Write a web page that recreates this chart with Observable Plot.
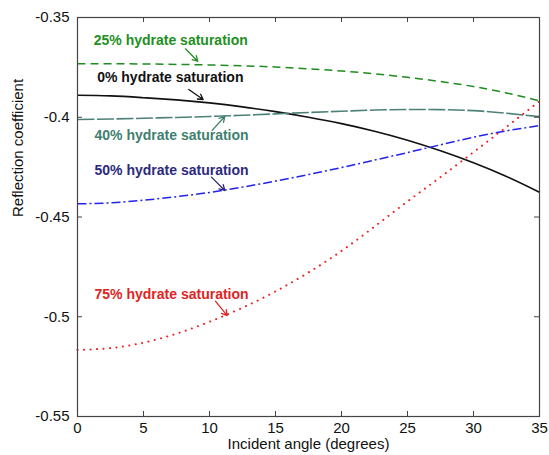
<!DOCTYPE html>
<html>
<head>
<meta charset="utf-8">
<script src="https://cdn.jsdelivr.net/npm/d3@7"></script>
<script src="https://cdn.jsdelivr.net/npm/@observablehq/plot@0.6"></script>
<style>
  html, body { margin: 0; padding: 0; background: #fff; }
</style>
</head>
<body>
<div id="chart"></div>
<script>
// Incident angle (degrees)
const angles = [0, 2.5, 5, 7.5, 10, 12.5, 15, 17.5, 20, 22.5, 25, 27.5, 30, 32.5, 35];

// Reflection coefficient per hydrate saturation
const sat0  = [-0.3890, -0.3893, -0.3902, -0.3913, -0.3928, -0.3948, -0.3972, -0.4000, -0.4032, -0.4070, -0.4115, -0.4168, -0.4228, -0.4297, -0.4376];
const sat25 = [-0.3732, -0.3732, -0.3733, -0.3735, -0.3738, -0.3742, -0.3748, -0.3757, -0.3768, -0.3782, -0.3800, -0.3821, -0.3846, -0.3878, -0.3918];
const sat40 = [-0.4011, -0.4009, -0.4005, -0.4001, -0.3996, -0.3990, -0.3983, -0.3976, -0.3970, -0.3964, -0.3961, -0.3962, -0.3967, -0.3980, -0.3997];
const sat50 = [-0.4434, -0.4429, -0.4416, -0.4398, -0.4377, -0.4350, -0.4320, -0.4287, -0.4252, -0.4215, -0.4177, -0.4138, -0.4100, -0.4068, -0.4042];
const sat75 = [-0.5166, -0.5157, -0.5130, -0.5085, -0.5025, -0.4955, -0.4873, -0.4778, -0.4670, -0.4548, -0.4422, -0.4300, -0.4175, -0.4048, -0.3920];

const xTicks = [0, 5, 10, 15, 20, 25, 30, 35];
const xTickLabels = ["0", "5", "10", "15", "20", "25", "30", "35"];
const yTicks = [-0.55, -0.5, -0.45, -0.4, -0.35];
const yTickLabels = ["-0.55", "-0.5", "-0.45", "-0.4", "-0.35"];

const seriesNames = ["0% hydrate saturation", "25% hydrate saturation", "40% hydrate saturation", "50% hydrate saturation", "75% hydrate saturation"];

// Annotation anchors (data units)
const labelX = [1.49, 1.23, 1.29, 1.29, 1.29];
const labelY = [-0.3802, -0.3615, -0.4091, -0.4267, -0.4888];
const arrowX1 = [8.43, 8.18, 10.2, 10.15, 10.45];
const arrowY1 = [-0.3861, -0.3657, -0.4066, -0.4300, -0.4922];
const arrowX2 = [9.52, 9.11, 11.16, 11.16, 11.34];
const arrowY2 = [-0.3911, -0.3719, -0.3996, -0.4367, -0.4994];

// Styles
const lineColors  = ["#111111", "#1e8c1e", "#4d8178", "#2323ee", "#f02020"];
const labelColors = ["#111111", "#229022", "#3f7f70", "#2c2a7c", "#e02424"];
const dashes = [null, "8,5", "17,2.5", "9,3,2,3", "0.1,6.4"];
const caps = ["butt", "butt", "butt", "butt", "round"];
const widths = [1.6, 1.5, 1.6, 1.5, 2.0];

const allValues = [sat0, sat25, sat40, sat50, sat75];

const lineMarks = allValues.map((vals, i) => {
  const rows = angles.map((a, j) => ({angle: a, r: vals[j]}));
  return Plot.line(rows, {
    x: "angle", y: "r", curve: "natural",
    stroke: lineColors[i], strokeWidth: widths[i],
    strokeDasharray: dashes[i] || undefined,
    strokeLinecap: caps[i]
  });
});

const annotations = seriesNames.map((name, i) => ({
  name, x: labelX[i], y: labelY[i],
  x1: arrowX1[i], y1: arrowY1[i], x2: arrowX2[i], y2: arrowY2[i],
  color: labelColors[i]
}));

const W = 549, H = 455;
const mT = 17, mB = 39, mL = 77, mR = 10;
const fw = W - mL - mR, fh = H - mT - mB;
const tickLen = 5;

const chart = Plot.plot({
  width: W, height: H,
  marginTop: mT, marginBottom: mB, marginLeft: mL, marginRight: mR,
  style: {fontFamily: "'Liberation Sans', Arial, sans-serif", fontSize: "15px", background: "#fff", color: "#111"},
  x: {domain: [0, 35]},
  y: {domain: [-0.55, -0.35]},
  marks: [
    ...lineMarks,
    // inward ticks on all four sides
    Plot.tickX(xTicks, {x: d => d, insetTop: fh - tickLen, stroke: "#444", strokeWidth: 1}),
    Plot.tickX(xTicks, {x: d => d, insetBottom: fh - tickLen, stroke: "#444", strokeWidth: 1}),
    Plot.tickY(yTicks, {y: d => d, insetRight: fw - tickLen, stroke: "#444", strokeWidth: 1}),
    Plot.tickY(yTicks, {y: d => d, insetLeft: fw - tickLen, stroke: "#444", strokeWidth: 1}),
    Plot.frame({stroke: "#444", strokeWidth: 1.2}),
    Plot.axisX({ticks: xTicks, tickSize: 0, tickPadding: 6, tickFormat: d => xTickLabels[xTicks.indexOf(d)], label: null, fontSize: 15, fill: "#111"}),
    Plot.axisY({ticks: yTicks, tickSize: 0, tickPadding: 8, tickFormat: d => yTickLabels[yTicks.indexOf(d)], label: null, fontSize: 15, fill: "#111"}),
    Plot.text(["Incident angle (degrees)"], {frameAnchor: "bottom", dy: 32, fontSize: 15, fill: "#111"}),
    Plot.text(["Reflection coefficient"], {frameAnchor: "left", dx: -59, rotate: -90, fontSize: 15, fill: "#111"}),
    Plot.arrow(annotations, {x1: "x1", y1: "y1", x2: "x2", y2: "y2", stroke: "color", strokeWidth: 1.3, headLength: 7, bend: 0}),
    Plot.text(annotations, {x: "x", y: "y", text: "name", fill: "color", textAnchor: "start", fontWeight: "bold", fontSize: 14})
  ]
});

document.getElementById("chart").appendChild(chart);
</script>
</body>
</html>
